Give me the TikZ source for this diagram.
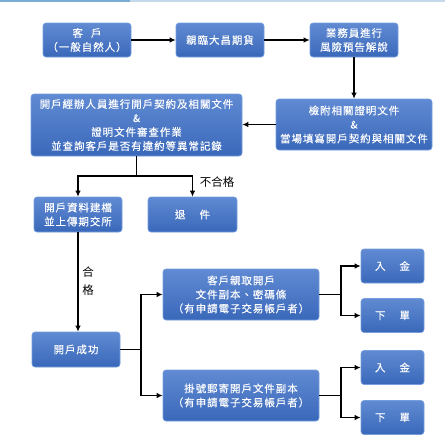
\documentclass[tikz,border=0pt]{standalone}
\usepackage{fontspec}
\usetikzlibrary{arrows.meta}
\newfontfamily\cjk[LetterSpace=9,FakeBold=0.15]{Noto Sans CJK TC}
\newfontfamily\cjklabel{Noto Sans CJK TC}
\definecolor{boxBlue}{RGB}{58,104,186}
\definecolor{boxTop}{RGB}{96,138,210}
\definecolor{boxEdge}{RGB}{118,158,222}
\definecolor{barDark}{RGB}{122,172,212}
\definecolor{barLight}{RGB}{198,216,236}

\begin{document}
\begin{tikzpicture}[x=1pt,y=-1pt,
        stepbox/.style={draw=boxEdge,line width=0.6pt,rounded corners=3pt,top color=boxTop,bottom color=boxBlue,
            text=white,align=center,inner sep=0pt,font=\cjk\fontsize{10.5}{14}\selectfont},
        flow/.style={-{Latex[length=6pt,width=5.5pt]},line width=1.3pt},
        link/.style={line width=1.3pt},
        note/.style={font=\cjklabel\fontsize{11.5}{18}\selectfont,inner sep=0pt}]
        \def\smallW{88pt}
        \def\smallH{34pt}
        \def\wideW{156pt}
        \def\wideH{51pt}

        \useasboundingbox (0,0) rectangle (445,440);

        % Top bar
        \fill[barDark] (0,0) rectangle (130,2);
        \fill[barLight] (130,0) rectangle (445,2);

        % Application steps
        \node[stepbox,minimum width=\smallW,minimum height=\smallH] (kehu) at (87,40) {客\hspace{8pt}戶\\（一般自然人）};
        \node[stepbox,minimum width=\smallW,minimum height=\smallH] (qinlin) at (220,40) {親臨大昌期貨};
        \node[stepbox,minimum width=\smallW,minimum height=\smallH] (yewu) at (354,40) {業務員進行\\風險預告解說};
        \node[stepbox,minimum width=\wideW,minimum height=\wideH] (jianfu) at (354,124.5) {檢附相關證明文件\\\&\\當場填寫開戶契約與相關文件};
        \node[stepbox,minimum width=211pt,minimum height=62pt] (jingban) at (136.5,125) {開戶經辦人員進行開戶契約及相關文件\\\&\\證明文件審查作業\\並查詢客戶是否有違約等異常記錄};

        % Review result
        \node[stepbox,minimum width=\smallW,minimum height=35pt] (jiandang) at (78,214.5) {開戶資料建檔\\並上傳期交所};
        \node[stepbox,minimum width=89pt,minimum height=35pt] (tuijian) at (192.5,214.5) {退\hspace{14pt}件};
        \node[stepbox,minimum width=\smallW,minimum height=35pt] (chenggong) at (76,349.5) {開戶成功};

        % Delivery of documents
        \node[stepbox,minimum width=\wideW,minimum height=\wideH] (qinqu) at (241,294.5) {客戶親取開戶\\文件副本、密碼條\\（有申請電子交易帳戶者）};
        \node[stepbox,minimum width=\wideW,minimum height=\wideH] (guahao) at (241,395.5) {掛號郵寄開戶文件副本\\（有申請電子交易帳戶者）};

        \foreach \name/\ypos/\txt in {rujinA/266/入\hspace{14pt}金,xiadanA/315.5/下\hspace{14pt}單,rujinB/367.5/入\hspace{14pt}金,xiadanB/417.5/下\hspace{14pt}單} {
                \node[stepbox,minimum width=63pt,minimum height=\smallH] (\name) at (392.5,\ypos) {\txt};
            }

        % Labels
        \node[note] (buhege) at (217,182) {不合格};
        \node[note,align=center] (hege) at (88,281) {合\\格};

        % Forks
        \coordinate (splitTop) at (136.5,176);
        \coordinate (forkA) at (141,0);
        \coordinate (forkB) at (341,0);

        % Connectors
        \draw[flow] (kehu) -- (qinlin);
        \draw[flow] (qinlin) -- (yewu);
        \draw[flow] (yewu) -- (jianfu);
        \draw[flow] (jianfu.west) -- (jianfu.west -| jingban.east);
        \draw[link] (jingban.south) -- (splitTop);
        \draw[flow] (splitTop) -| (jiandang.north);
        \draw[flow] (splitTop) -| (tuijian.north);
        \draw[flow] (jiandang.south) -- (jiandang.south |- chenggong.north);

        \draw[link] (chenggong.east) -- (chenggong.east -| forkA);
        \draw[flow] (chenggong.east -| forkA) |- (qinqu.west);
        \draw[flow] (chenggong.east -| forkA) |- (guahao.west);

        \foreach \src/\dstA/\dstB in {qinqu/rujinA/xiadanA,guahao/rujinB/xiadanB} {
                \draw[link] (\src.east) -- (\src.east -| forkB);
                \draw[flow] (\src.east -| forkB) |- (\dstA.west);
                \draw[flow] (\src.east -| forkB) |- (\dstB.west);
            }
    \end{tikzpicture}
\end{document}
